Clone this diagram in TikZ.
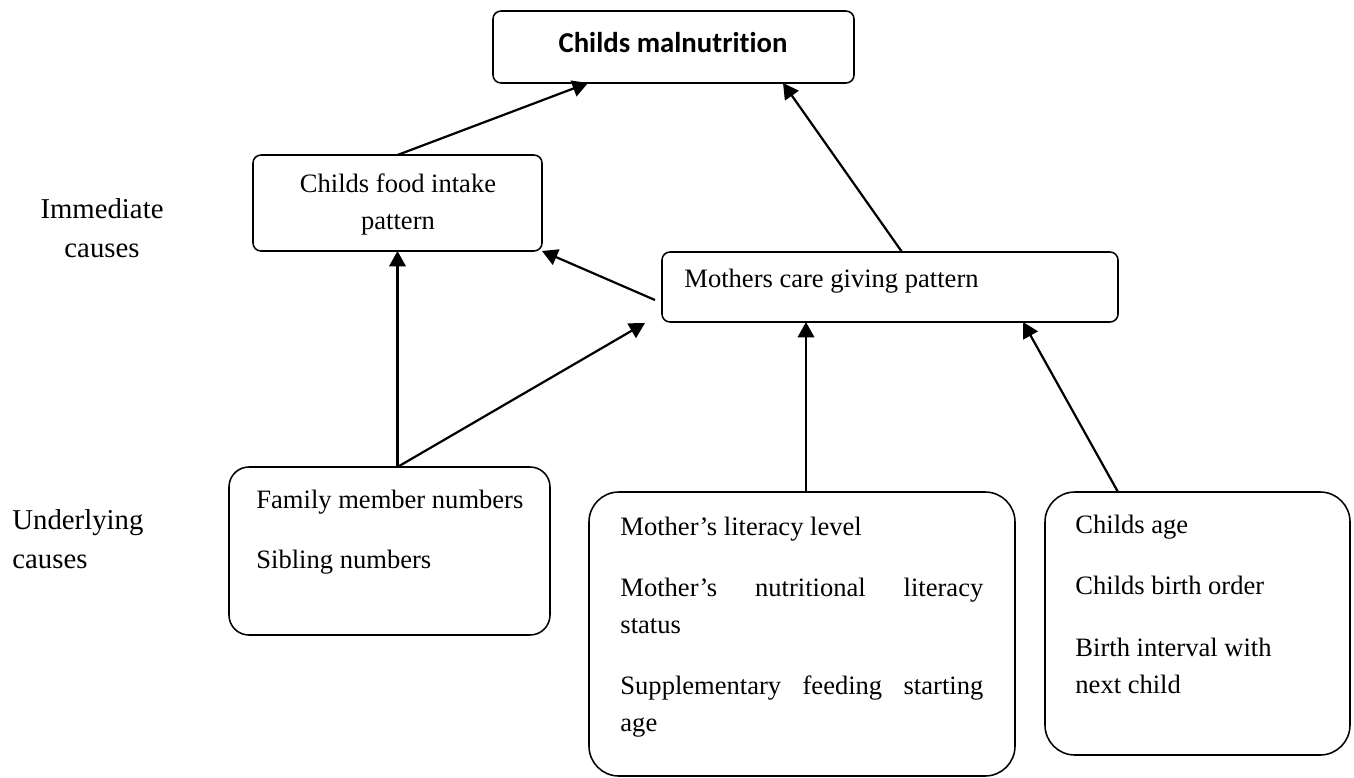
\documentclass[tikz,border=0pt]{standalone}
\usepackage{fontspec}
\setmainfont{Liberation Serif}
\newfontfamily\titlefont[Ligatures=NoCommon]{Carlito}
\usetikzlibrary{arrows.meta,calc}
\newcommand\pxu{0.452pt}
\tikzset{
  box/.style={draw, line width=0.7pt, inner sep=0pt, outer sep=0pt},
  txt/.style={inner sep=0pt, font=\fontsize{12}{16.3}\selectfont},
  lab/.style={inner sep=0pt, font=\fontsize{13}{17.4}\selectfont},
  arr/.style={-{Triangle[length=7pt,width=7.5pt]}, line width=1pt}
}
\begin{document}
\begin{tikzpicture}[x=\pxu, y=-\pxu]
\useasboundingbox (0,0) rectangle (1354,778);
\node[box, rounded corners=3.6pt, minimum width=361*\pxu, minimum height=72*\pxu] (mal) at (673.5,47) {};
\node[box, rounded corners=3.6pt, minimum width=289*\pxu, minimum height=96*\pxu] (food) at (397.5,203) {};
\node[box, rounded corners=3.6pt, minimum width=456*\pxu, minimum height=70*\pxu] (care) at (890,287) {};
\node[box, rounded corners=9pt, minimum width=321*\pxu, minimum height=168*\pxu] (fam) at (389.5,551) {};
\node[box, rounded corners=13.5pt, minimum width=426*\pxu, minimum height=284*\pxu] (lit) at (802,634) {};
\node[box, rounded corners=13.5pt, minimum width=305*\pxu, minimum height=263*\pxu] (age) at (1197.5,623.5) {};
\node[txt, anchor=base, font=\titlefont\bfseries\fontsize{13}{15}\selectfont] (maltxt) at (673,52) {Childs malnutrition};
\node[txt, anchor=base, align=center] (foodtxt) at (398,229) {Childs food intake\\pattern};
\node[txt, anchor=base west] (caretxt) at (684,287) {Mothers care giving pattern};
\node[txt, anchor=base west, align=left] (famtxt) at (256,568) {Family member numbers\\[10.8pt]Sibling numbers};
\node[txt, anchor=base west, align=flush left, text width=164pt] (littxt) at (620,535) {Mother's literacy level\\[11.7pt]Mother's\hfill nutritional\hfill literacy\\status\\[11.7pt]Supplementary\hfill feeding\hfill starting\\age};
\node[txt, anchor=base west, align=left] (agetxt) at (1075,693) {Childs age\\[11.7pt]Childs birth order\\[11.7pt]Birth interval with\\next child};
\node[lab, anchor=base, align=center] (imm) at (102,257) {Immediate\\causes};
\node[lab, anchor=base west, align=left] (und) at (12,568) {Underlying\\causes};
\draw[arr] (food.north) -- ($(mal.south west)+(95,0)$);
\draw[arr] ($(care.north west)+(240,0)$) -- ($(mal.south west)+(290,0)$);
\draw[arr] ($(care.west)+(-7,13)$) -- (food.south east);
\draw[arr] (fam.north -| food.south) -- (food.south);
\draw[arr] (fam.north -| food.south) -- ($(care.south west)+(-17,1)$);
\draw[arr] ($(lit.north)+(4,0)$) -- ($(care.south west)+(144,0)$);
\draw[arr] ($(age.north west)+(73,0)$) -- ($(care.south east)+(-95,0)$);
\end{tikzpicture}
\end{document}
